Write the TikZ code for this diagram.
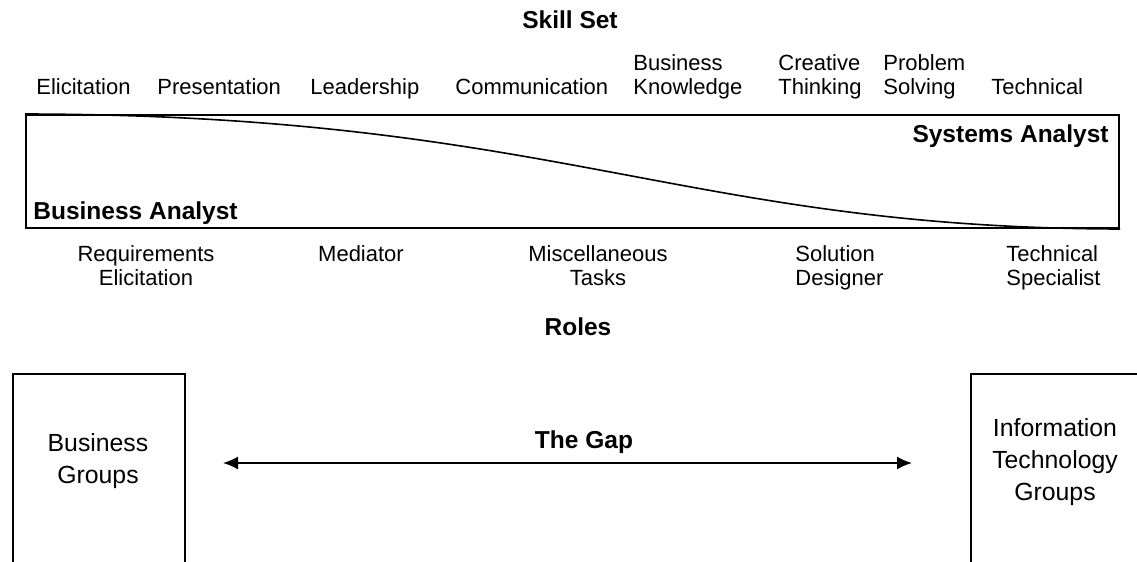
\documentclass[tikz,border=0pt]{standalone}
\usepackage{fontspec}
\setmainfont{Liberation Sans}
\usepackage{tikz}
\usetikzlibrary{arrows.meta}

\begin{document}
\begin{tikzpicture}[x=0.5pt, y=-0.5pt,
    skill/.style={inner sep=0pt, font=\fontsize{11}{12}\selectfont},
    heading/.style={inner sep=0pt, font=\fontsize{12.25}{14}\selectfont\bfseries},
    groupbox/.style={draw, line width=1pt, anchor=north west, minimum width=#1, minimum height=120pt},
    grouptext/.style={inner sep=0pt, align=center, anchor=base, font=\fontsize{12.4}{15.85}\selectfont}]
    \useasboundingbox (0,0) rectangle (1137,562);
    \clip (0,0) rectangle (1137,562);

    % skills along the top
    \node[heading, anchor=base] (skillset) at (570,28) {Skill Set};
    \node[skill, anchor=base west] (elic) at (36,94) {Elicitation};
    \node[skill, anchor=base west] (pres) at (157,94) {Presentation};
    \node[skill, anchor=base west] (lead) at (310,94) {Leadership};
    \node[skill, anchor=base west] (comm) at (455,94) {Communication};
    \node[skill, anchor=base west, align=left] (know) at (633,94) {Business\\Knowledge};
    \node[skill, anchor=base west, align=left] (creat) at (778,94) {Creative\\Thinking};
    \node[skill, anchor=base west, align=left] (prob) at (883,94) {Problem\\Solving};
    \node[skill, anchor=base west] (tech) at (991,94) {Technical};

    % the band between the two analysts
    \node[draw, line width=1pt, minimum width=546.5pt, minimum height=56.5pt, inner sep=0pt] (band) at (572.5,171.5) {};
    \draw[line width=0.8pt] (band.north west) .. controls (557,115) and (682,228) .. (band.south east);
    \node[heading, anchor=base east] (sa) at (1109,142) {Systems Analyst};
    \node[heading, anchor=base west] (ba) at (33,219) {Business Analyst};

    % roles underneath
    \node[skill, anchor=base, align=center] (reqel) at (146,285) {Requirements\\Elicitation};
    \node[skill, anchor=base] (med) at (361,261) {Mediator};
    \node[skill, anchor=base, align=center] (misc) at (598,285) {Miscellaneous\\Tasks};
    \node[skill, anchor=base west, align=left] (sol) at (795,285) {Solution\\Designer};
    \node[skill, anchor=base west, align=left] (spec) at (1006,285) {Technical\\Specialist};
    \node[heading, anchor=base] (roles) at (578,335) {Roles};

    % the gap between the groups
    \node[groupbox=86pt] (bgbox) at (12,373) {};
    \node[groupbox=120pt] (itbox) at (970,373) {};
    \node[grouptext] (bg) at (98,483) {Business\\Groups};
    \node[grouptext] (itg) at (1055,500) {Information\\Technology\\Groups};
    \coordinate (gapL) at (223,463);
    \coordinate (gapR) at (912,463);
    \draw[{Latex[length=7.5pt,width=6.5pt]}-{Latex[length=7.5pt,width=6.5pt]}, line width=0.8pt] (gapL) -- (gapR);
    \node[heading, anchor=base] (gap) at (584,448) {The Gap};
\end{tikzpicture}
\end{document}
